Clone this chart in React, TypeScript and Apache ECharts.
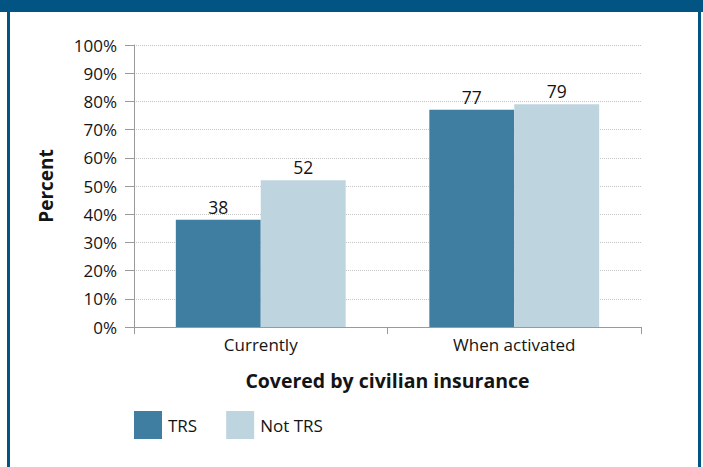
import React, { useEffect, useRef } from "react";
import * as echarts from "echarts";

const categories = ["Currently", "When activated"];
const trsValues = [38, 77];
const notTrsValues = [52, 79];
const seriesNames = ["TRS", "Not TRS"];
const yTicks = [0, 10, 20, 30, 40, 50, 60, 70, 80, 90, 100];

const FONT = "'Open Sans', 'Noto Sans', sans-serif";
const TEXT = "#141414";

export default function App() {
  const ref = useRef<HTMLDivElement>(null);
  useEffect(() => {
    if (!ref.current) return;
    const chart = echarts.init(ref.current, undefined, { renderer: "svg" });
    chart.setOption({
      animation: false,
      backgroundColor: "#ffffff",
      textStyle: { fontFamily: FONT, color: TEXT },
      graphic: [
        { type: "rect", shape: { x: 0, y: 0, width: 703, height: 12 }, style: { fill: "#025582" }, silent: true },
        { type: "rect", shape: { x: 7, y: 0, width: 3, height: 467 }, style: { fill: "#025582" }, silent: true },
        { type: "rect", shape: { x: 698, y: 0, width: 3, height: 467 }, style: { fill: "#025582" }, silent: true },
      ],
      legend: {
        left: 134,
        top: 411,
        padding: 0,
        itemWidth: 28,
        itemHeight: 28,
        itemGap: 29,
        icon: "rect",
        textStyle: { fontFamily: FONT, fontSize: 17, color: TEXT, padding: [17, 0, 0, 1] },
        data: seriesNames,
      },
      grid: { left: 134, right: 62, top: 45, bottom: 140 },
      xAxis: {
        type: "category",
        data: categories,
        name: "Covered by civilian insurance",
        nameLocation: "middle",
        nameGap: 43,
        nameTextStyle: { fontFamily: FONT, fontSize: 19.5, fontWeight: "bold", color: TEXT },
        axisLine: { lineStyle: { color: "#9a9a9a", width: 1 } },
        axisTick: { show: true, length: 7, lineStyle: { color: "#9a9a9a" } },
        axisLabel: { fontFamily: FONT, fontSize: 17, color: TEXT, margin: 9 },
      },
      yAxis: {
        type: "value",
        min: 0,
        max: 100,
        interval: 10,
        name: "Percent",
        nameLocation: "middle",
        nameRotate: 90,
        nameGap: 79,
        nameTextStyle: { fontFamily: FONT, fontSize: 19, fontWeight: "bold", color: TEXT },
        axisLine: { show: true, lineStyle: { color: "#9a9a9a", width: 1 } },
        axisTick: { show: true, length: 9, lineStyle: { color: "#9a9a9a" } },
        axisLabel: {
          fontFamily: FONT,
          fontSize: 17,
          color: TEXT,
          margin: 17,
          formatter: (v: number) => (yTicks.includes(v) ? v + "%" : ""),
        },
        splitLine: { show: true, lineStyle: { color: "#c4c4c4", type: [1, 1], width: 1 } },
      },
      series: [
        {
          name: seriesNames[0],
          type: "bar",
          data: trsValues,
          barGap: "0%",
          barCategoryGap: "33%",
          itemStyle: { color: "#3f7ea0" },
          label: { show: true, position: "top", distance: 4, fontFamily: FONT, fontSize: 17.5, color: TEXT },
        },
        {
          name: seriesNames[1],
          type: "bar",
          data: notTrsValues,
          barGap: "0%",
          barCategoryGap: "33%",
          itemStyle: { color: "#bed4df" },
          label: { show: true, position: "top", distance: 4, fontFamily: FONT, fontSize: 17.5, color: TEXT },
        },
      ],
    });
    return () => chart.dispose();
  }, []);
  return (
    <div
      ref={ref}
      style={{ position: "fixed", left: 0, top: 0, width: 703, height: 467 }}
    />
  );
}
